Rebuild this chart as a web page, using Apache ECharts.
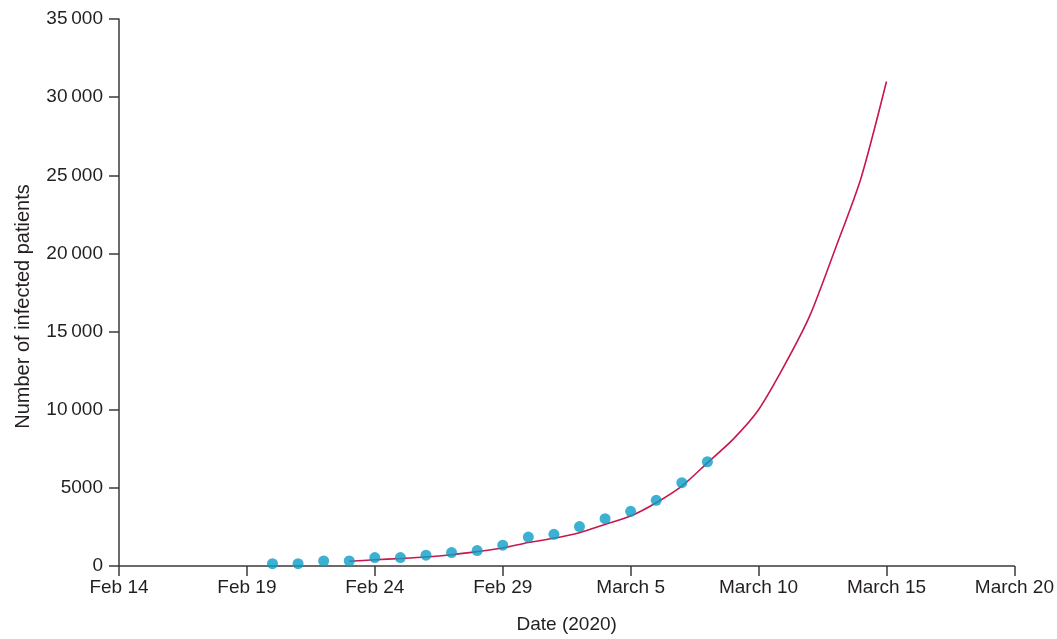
<!DOCTYPE html>
<html>
<head>
<meta charset="utf-8">
<style>
  html, body { margin: 0; padding: 0; background: #ffffff; }
  #chart { width: 1057px; height: 639px; }
</style>
<script src="https://cdn.jsdelivr.net/npm/echarts@6/dist/echarts.min.js"></script>
</head>
<body>
<div id="chart"></div>
<script>
// Reported infected patients, one point per day
const reportedDates = [
  '2020-02-20', '2020-02-21', '2020-02-22', '2020-02-23', '2020-02-24', '2020-02-25',
  '2020-02-26', '2020-02-27', '2020-02-28', '2020-02-29', '2020-03-01', '2020-03-02',
  '2020-03-03', '2020-03-04', '2020-03-05', '2020-03-06', '2020-03-07', '2020-03-08'
];
const reportedCases = [
  150, 150, 320, 320, 540, 540,
  690, 860, 990, 1330, 1850, 2030,
  2520, 3030, 3500, 4200, 5330, 6670
];

// Projected exponential trend
const trendDates = [
  '2020-02-23', '2020-02-24', '2020-02-25', '2020-02-26', '2020-02-27', '2020-02-28',
  '2020-02-29', '2020-03-01', '2020-03-02', '2020-03-03', '2020-03-04', '2020-03-05',
  '2020-03-06', '2020-03-07', '2020-03-08', '2020-03-09', '2020-03-10', '2020-03-11',
  '2020-03-12', '2020-03-13', '2020-03-14', '2020-03-15'
];
const trendCases = [
  300, 400, 480, 575, 720, 920,
  1150, 1500, 1770, 2130, 2660, 3200,
  4050, 5110, 6600, 8100, 10000, 12800,
  16000, 20300, 24800, 31000
];

// Axis tick labels (every 5 days from Feb 14)
const xTickLabels = ['Feb 14', 'Feb 19', 'Feb 24', 'Feb 29', 'March 5', 'March 10', 'March 15', 'March 20'];
const yTicks = [0, 5000, 10000, 15000, 20000, 25000, 30000, 35000];

const startDay = Date.UTC(2020, 1, 14);
const dayOffset = s => {
  const p = s.split('-').map(Number);
  return Math.round((Date.UTC(p[0], p[1] - 1, p[2]) - startDay) / 86400000);
};

const textColor = '#231f20';
const axisColor = '#3a3a3a';
const font = '"Liberation Sans", Arial, sans-serif';

const chart = echarts.init(document.getElementById('chart'), null, { renderer: 'canvas' });

chart.setOption({
  animation: false,
  grid: { left: 119, right: 41, top: 19, bottom: 72 },
  xAxis: {
    type: 'value',
    min: 0,
    max: 35,
    interval: 5,
    name: 'Date (2020)',
    nameLocation: 'middle',
    nameGap: 49,
    nameTextStyle: { color: textColor, fontSize: 19, fontFamily: font },
    axisLine: { show: true, lineStyle: { color: axisColor, width: 1.5 } },
    axisTick: { show: true, inside: false, length: 10, lineStyle: { color: axisColor, width: 1.5 } },
    axisLabel: {
      color: textColor, fontSize: 19, fontFamily: font, margin: 12,
      formatter: v => xTickLabels[Math.round(v / 5)] || ''
    },
    splitLine: { show: false }
  },
  yAxis: {
    type: 'value',
    min: yTicks[0],
    max: yTicks[yTicks.length - 1],
    interval: 5000,
    name: 'Number of infected patients',
    nameLocation: 'middle',
    nameGap: 86,
    nameRotate: 90,
    nameTextStyle: { color: textColor, fontSize: 20, fontFamily: font, padding: [0, 28, 0, 0] },
    axisLine: { show: true, lineStyle: { color: axisColor, width: 1.5 } },
    axisTick: { show: true, inside: false, length: 10, lineStyle: { color: axisColor, width: 1.5 } },
    axisLabel: {
      color: textColor, fontSize: 19, fontFamily: font, margin: 16,
      formatter: v => v >= 10000 ? String(Math.floor(v / 1000)) + '\u2009' + String(v % 1000).padStart(3, '0') : String(v)
    },
    splitLine: { show: false }
  },
  series: [
    {
      name: 'Trend',
      type: 'line',
      data: trendDates.map((d, i) => [dayOffset(d), trendCases[i]]),
      showSymbol: false,
      smooth: 0.25,
      lineStyle: { color: '#c8174a', width: 1.6 },
      z: 2
    },
    {
      name: 'Reported',
      type: 'scatter',
      data: reportedDates.map((d, i) => [dayOffset(d), reportedCases[i]]),
      symbol: 'circle',
      symbolSize: 11,
      itemStyle: { color: '#0b9ec6' },
      z: 3
    }
  ]
});
</script>
</body>
</html>
